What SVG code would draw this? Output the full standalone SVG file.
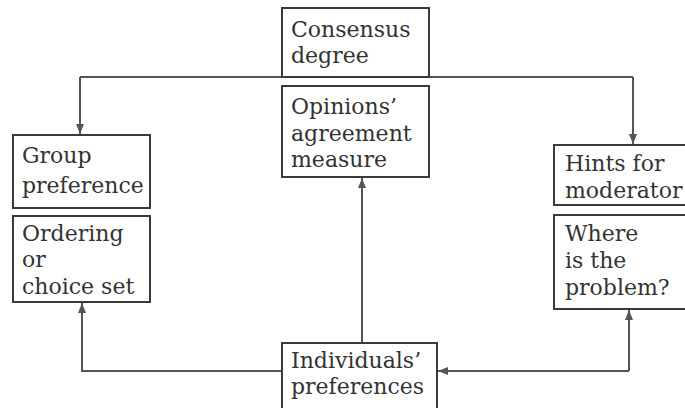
<svg xmlns="http://www.w3.org/2000/svg" width="685" height="408" viewBox="0 0 685 408">
<defs>
<style>
.box{fill:#fff;stroke:#3a3a3a;stroke-width:2}
.t{font-family:"DejaVu Serif","Liberation Serif",serif;font-size:22px;fill:#333}
.c{fill:none;stroke:#555;stroke-width:2}
</style>
<marker id="ah" viewBox="0 0 10 8" refX="10" refY="4" markerWidth="10" markerHeight="8" markerUnits="userSpaceOnUse" orient="auto">
<path d="M0,0 L10,4 L0,8 Z" fill="#555"/>
</marker>
</defs>
<rect width="685" height="408" fill="#fff"/>
<g id="connectors">
<path class="c" d="M80,77 H633"/>
<path class="c" d="M80,77 V134" marker-end="url(#ah)"/>
<path class="c" d="M633,77 V144" marker-end="url(#ah)"/>
<path class="c" d="M362,343 V178" marker-end="url(#ah)"/>
<path class="c" d="M282,371 H82 V303" marker-end="url(#ah)"/>
<path class="c" d="M629,371 V310" marker-end="url(#ah)"/>
<path class="c" d="M629,371 H438" marker-end="url(#ah)"/>
</g>
<g id="consensus">
<rect class="box" x="282" y="8" width="147" height="69"/>
<text class="t" x="291" y="37">Consensus</text>
<text class="t" x="291" y="63">degree</text>
</g>
<g id="opinions">
<rect class="box" x="282" y="86" width="147" height="91"/>
<text class="t" x="291" y="114">Opinions’</text>
<text class="t" x="291" y="141">agreement</text>
<text class="t" x="291" y="167">measure</text>
</g>
<g id="group">
<rect class="box" x="13" y="135" width="137" height="73"/>
<text class="t" x="22" y="163">Group</text>
<text class="t" x="22" y="193">preference</text>
</g>
<g id="ordering">
<rect class="box" x="13" y="216" width="137" height="86"/>
<text class="t" x="22" y="241">Ordering</text>
<text class="t" x="22" y="267">or</text>
<text class="t" x="22" y="294">choice set</text>
</g>
<g id="hints">
<rect class="box" x="554" y="145" width="150" height="60"/>
<text class="t" x="565" y="171">Hints for</text>
<text class="t" x="565" y="198">moderator</text>
</g>
<g id="where">
<rect class="box" x="554" y="215" width="150" height="94"/>
<text class="t" x="565" y="241">Where</text>
<text class="t" x="565" y="268">is the</text>
<text class="t" x="565" y="295">problem?</text>
</g>
<g id="individuals">
<rect class="box" x="282" y="343" width="155" height="80"/>
<text class="t" x="291" y="368">Individuals’</text>
<text class="t" x="291" y="394">preferences</text>
</g>
</svg>
